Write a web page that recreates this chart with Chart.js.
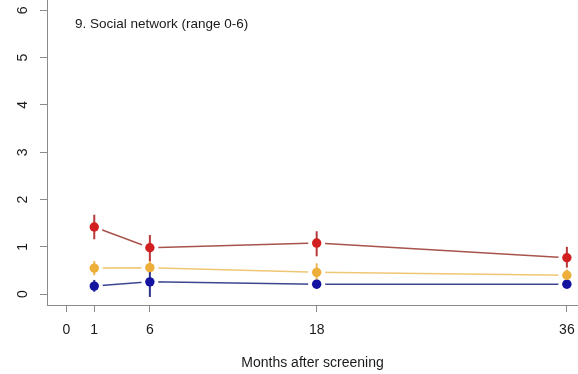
<!DOCTYPE html>
<html>
<head>
<meta charset="utf-8">
<script src="https://cdn.jsdelivr.net/npm/chart.js@4"></script>
<style>
  body { margin: 0; background: #fff; }
  #wrap { width: 578px; height: 374px; }
</style>
</head>
<body>
<div id="wrap"><canvas id="grafico" width="578" height="374"></canvas></div>
<script>
// months are drawn on a stretched axis: "1" sits at position 2
const meses = [2, 6, 18, 36]
const xTicks = [0, 2, 6, 18, 36]
const xTickLabels = ['0', '1', '6', '18', '36']
const yTicks = [0, 1, 2, 3, 4, 5, 6]

const vermelho = [1.42, 0.98, 1.08, 0.77]
const vermelhoMin = [1.16, 0.70, 0.80, 0.56]
const vermelhoMax = [1.68, 1.25, 1.33, 1.00]

const amarelo = [0.55, 0.56, 0.46, 0.40]
const amareloMin = [0.40, 0.42, 0.30, 0.30]
const amareloMax = [0.70, 0.70, 0.65, 0.52]

const azul = [0.17, 0.26, 0.21, 0.21]
const azulMin = [0.05, -0.06, 0.12, 0.14]
const azulMax = [0.30, 0.50, 0.28, 0.27]

const titulo = '9. Social network (range 0-6)'

function pontos(valores) {
    return valores.map((v, i) => ({ x: meses[i], y: v }))
}

const series = [
    { valores: vermelho, min: vermelhoMin, max: vermelhoMax, ponto: '#d21f1f', linha: '#a8534c', barra: '#b8393a' },
    { valores: amarelo, min: amareloMin, max: amareloMax, ponto: '#eeae3a', linha: '#efc774', barra: '#ecb552' },
    { valores: azul, min: azulMin, max: azulMax, ponto: '#1414a0', linha: '#3f4690', barra: '#2a3488' }
]

// points first (drawn last = on top), then the lines with white halos
const datasets = []
series.forEach(s => {
    datasets.push({
        data: pontos(s.valores),
        showLine: false,
        pointRadius: 4.7,
        pointBackgroundColor: s.ponto,
        pointBorderWidth: 0
    })
})
series.forEach(s => {
    datasets.push({
        data: pontos(s.valores),
        showLine: true,
        borderColor: s.linha,
        borderWidth: 1.5,
        pointRadius: 8.5,
        pointBackgroundColor: '#ffffff',
        pointBorderWidth: 0
    })
})

const barrasErro = {
    id: 'barrasErro',
    afterDatasetDraw(chart, args) {
        if (args.index !== 3) return
        const ctx = chart.ctx
        const x = chart.scales.x
        const y = chart.scales.y
        ctx.save()
        ctx.lineWidth = 2
        series.forEach(s => {
            ctx.strokeStyle = s.barra
            meses.forEach((m, i) => {
                const px = x.getPixelForValue(m)
                ctx.beginPath()
                ctx.moveTo(px, y.getPixelForValue(s.min[i]))
                ctx.lineTo(px, y.getPixelForValue(s.max[i]))
                ctx.stroke()
            })
        })
        ctx.restore()
    }
}

const textos = {
    id: 'textos',
    afterDraw(chart) {
        const ctx = chart.ctx
        const a = chart.chartArea
        ctx.save()
        ctx.fillStyle = '#1a1a1a'
        ctx.font = '13.5px "Liberation Sans", Arial, sans-serif'
        ctx.textBaseline = 'middle'
        ctx.textAlign = 'left'
        ctx.fillText(titulo, a.left + 28, 24)
        ctx.restore()
    }
}

const config = {
    type: 'scatter',
    data: { datasets: datasets },
    options: {
        responsive: false,
        animation: false,
        layout: { padding: 0, autoPadding: false },
        plugins: {
            legend: { display: false },
            tooltip: { enabled: false }
        },
        scales: {
            x: {
                type: 'linear',
                min: -1.4,
                max: 36.8,
                afterBuildTicks: (scale) => { scale.ticks = xTicks.map(v => ({ value: v })) },
                afterFit: (scale) => {
                    scale.height = 69
                    scale.paddingLeft = 0
                    scale.paddingRight = 0
                },
                grid: { drawOnChartArea: false, tickLength: 7, color: '#8a8a8a' },
                border: { display: true, color: '#8a8a8a', width: 1 },
                ticks: {
                    padding: 10,
                    color: '#1a1a1a',
                    font: { family: '"Liberation Sans", Arial, sans-serif', size: 14 },
                    callback: (v) => xTickLabels[xTicks.indexOf(v)]
                },
                title: {
                    display: true,
                    text: 'Months after screening',
                    color: '#1a1a1a',
                    padding: 0,
                    font: { family: '"Liberation Sans", Arial, sans-serif', size: 14, lineHeight: 1.6 }
                }
            },
            y: {
                min: -0.23,
                max: 6.22,
                afterBuildTicks: (scale) => { scale.ticks = yTicks.map(v => ({ value: v })) },
                afterFit: (scale) => {
                    scale.width = 47
                    scale.paddingTop = 0
                    scale.paddingBottom = 0
                },
                grid: { drawOnChartArea: false, tickLength: 7, color: '#8a8a8a' },
                border: { display: true, color: '#8a8a8a', width: 1 },
                ticks: {
                    minRotation: 90,
                    maxRotation: 90,
                    crossAlign: 'center',
                    padding: 13,
                    color: '#1a1a1a',
                    font: { family: '"Liberation Sans", Arial, sans-serif', size: 14 }
                }
            }
        }
    },
    plugins: [barrasErro, textos]
}

const grafico = new Chart(document.getElementById('grafico'), config)
</script>
</body>
</html>
